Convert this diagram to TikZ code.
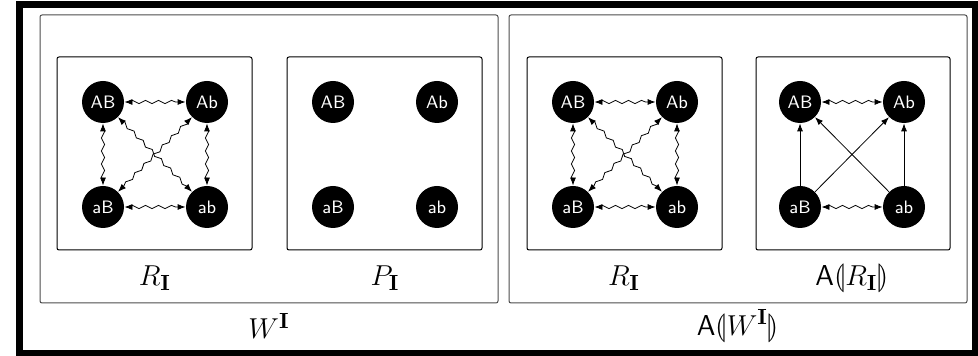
\documentclass[tikz,border=0pt]{standalone}
\usepackage{amsmath}
\usepackage{stmaryrd}
\usetikzlibrary{arrows.meta,decorations.pathmorphing}

\tikzset{
  state/.style={circle, fill=black, text=white, minimum size=21pt, inner sep=0pt, font=\sffamily\small},
  wavy/.style={{Latex[length=4pt,width=3pt]}-{Latex[length=4pt,width=3pt]}, line width=0.4pt,
    decorate, decoration={snake, amplitude=0.8pt, segment length=6.5pt, pre length=2pt, post length=2pt}},
  flow/.style={-{Latex[length=4pt,width=3pt]}, line width=0.4pt},
  outerbox/.style={draw=black!70, line width=0.5pt, rounded corners=1pt},
  innerbox/.style={draw=black, line width=0.5pt, rounded corners=1pt},
  lab/.style={font=\fontsize{15}{18}\selectfont}
}

\begin{document}
\begin{tikzpicture}[x=0.5pt,y=-0.5pt]
\useasboundingbox (0,0) rectangle (978,356);

%% frame
\draw[line width=3.5pt] (19.5,5) rectangle (975.5,354);

%% big boxes
\draw[outerbox] (40,15) rectangle (498,303);
\draw[outerbox] (509,15) rectangle (967,303);

%% small boxes
\draw[innerbox] (57,57) rectangle (252,250);
\draw[innerbox] (287,57) rectangle (482,250);
\draw[innerbox] (527,57) rectangle (722,250);
\draw[innerbox] (756,57) rectangle (950,250);

%% box 1 : R_I
\node[state] (aAB) at (103,102) {AB};
\node[state] (aAb) at (207,102) {Ab};
\node[state] (aaB) at (103,207) {aB};
\node[state] (aab) at (207,207) {ab};
\draw[wavy] (aAB) -- (aAb);
\draw[wavy] (aaB) -- (aab);
\draw[wavy] (aAB) -- (aaB);
\draw[wavy] (aAb) -- (aab);
\draw[wavy] (aAB) -- (aab);
\draw[wavy] (aAb) -- (aaB);

%% box 2 : P_I
\node[state] (bAB) at (333,102) {AB};
\node[state] (bAb) at (437,102) {Ab};
\node[state] (baB) at (333,207) {aB};
\node[state] (bab) at (437,207) {ab};

%% box 3 : R_I
\node[state] (cAB) at (573,102) {AB};
\node[state] (cAb) at (677,102) {Ab};
\node[state] (caB) at (573,207) {aB};
\node[state] (cab) at (677,207) {ab};
\draw[wavy] (cAB) -- (cAb);
\draw[wavy] (caB) -- (cab);
\draw[wavy] (cAB) -- (caB);
\draw[wavy] (cAb) -- (cab);
\draw[wavy] (cAB) -- (cab);
\draw[wavy] (cAb) -- (caB);

%% box 4 : A(R_I)
\node[state] (dAB) at (800,102) {AB};
\node[state] (dAb) at (904,102) {Ab};
\node[state] (daB) at (800,207) {aB};
\node[state] (dab) at (904,207) {ab};
\draw[wavy] (dAB) -- (dAb);
\draw[wavy] (daB) -- (dab);
\draw[flow] (daB) -- (dAB);
\draw[flow] (dab) -- (dAb);
\draw[flow] (daB) -- (dAb);
\draw[flow] (dab) -- (dAB);

%% labels
\node[lab] (lR1) at (155,278) {$R_{\mathbf{I}}$};
\node[lab] (lP) at (385,278) {$P_{\mathbf{I}}$};
\node[lab] (lR2) at (624,278) {$R_{\mathbf{I}}$};
\node[lab] (lAR) at (852,278) {$\mathsf{A}\llparenthesis R_{\mathbf{I}}\rrparenthesis$};
\node[lab] (lW) at (269,326) {$W^{\mathbf{I}}$};
\node[lab] (lAW) at (738,326) {$\mathsf{A}\llparenthesis W^{\mathbf{I}}\rrparenthesis$};

\end{tikzpicture}
\end{document}
